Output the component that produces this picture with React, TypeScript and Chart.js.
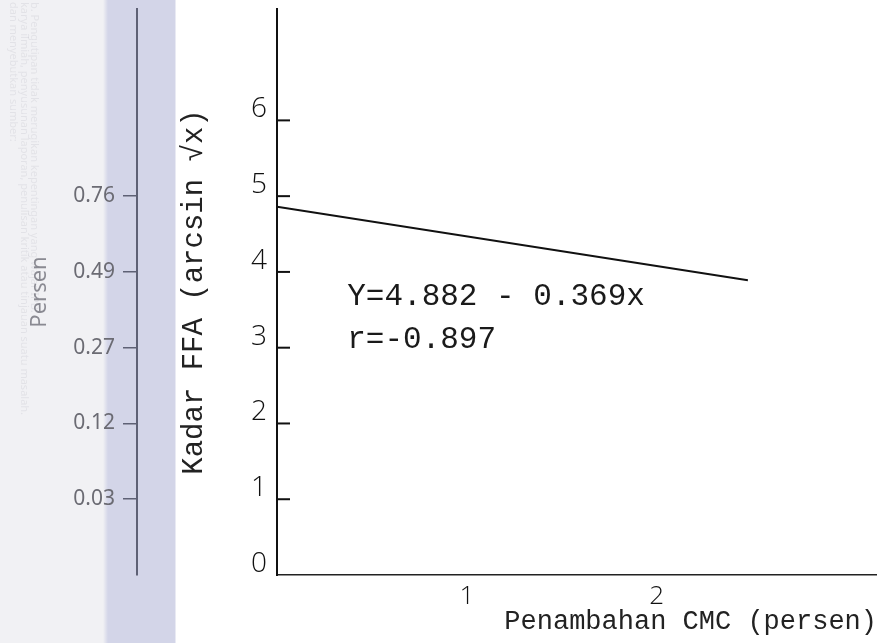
import React, { useEffect, useRef } from "react";
import { Chart, registerables } from "chart.js";

Chart.register(...registerables);

// ---- data ----
const lineX = [0, 2.48];
const lineY = [4.86, 3.89];
const yTickValues = [0, 1, 2, 3, 4, 5, 6];
const xTickValues = [1, 2];
const persenTickValues = [1, 2, 3, 4, 5];
const persenTickLabels = ["0.03", "0.12", "0.27", "0.49", "0.76"];
const equationText = "Y=4.882 - 0.369x";
const rText = "r=-0.897";
const yTitle = "Kadar FFA (arcsin √x)";
const xTitle = "Penambahan CMC (persen)";
const persenTitle = "Persen";
const watermarkLines = [
  "dan menyebutkan sumber:",
  "karya ilmiah, penyusunan laporan, penulisan kritik atau tinjauan suatu masalah.",
  "b. Pengutipan tidak merugikan kepentingan yang wajar IPB.",
];

const MONO = "'Liberation Mono', 'DejaVu Sans Mono', monospace";

function zeroPad(s: any) {
  s.paddingTop = 0;
  s.paddingBottom = 0;
  s.paddingLeft = 0;
  s.paddingRight = 0;
}

const decorPlugin = {
  id: "decor",
  beforeDraw(chart: any) {
    const ctx = chart.ctx;
    ctx.save();
    ctx.fillStyle = "rgba(120,120,140,0.12)";
    ctx.font = "11px 'Noto Sans', sans-serif";
    ctx.textBaseline = "middle";
    const cols = [13, 24, 34];
    watermarkLines.forEach((t, i) => {
      ctx.save();
      ctx.translate(cols[i], 2);
      ctx.rotate(Math.PI / 2);
      ctx.fillText(t, 0, 0);
      ctx.restore();
    });
    ctx.restore();
  },
  afterDraw(chart: any) {
    const ctx = chart.ctx;
    const xs = chart.scales.x;
    const ys = chart.scales.y;
    const left = chart.chartArea.left;
    ctx.save();
    // inward tick marks on main y axis
    ctx.strokeStyle = "#111";
    ctx.lineWidth = 2;
    yTickValues.forEach((v) => {
      if (v === 0) return;
      const y = ys.getPixelForValue(v);
      ctx.beginPath();
      ctx.moveTo(left, y);
      ctx.lineTo(left + 13, y);
      ctx.stroke();
    });
    // annotation texts
    ctx.fillStyle = "#1a1a1a";
    ctx.font = `31px ${MONO}`;
    ctx.textBaseline = "middle";
    ctx.textAlign = "left";
    ctx.fillText(equationText, xs.getPixelForValue(0.37), ys.getPixelForValue(3.67));
    ctx.fillText(rText, xs.getPixelForValue(0.37), ys.getPixelForValue(3.1));
    ctx.restore();
  },
};

export default function App() {
  const ref = useRef<HTMLCanvasElement | null>(null);

  useEffect(() => {
    if (!ref.current) return;
    const chart = new Chart(ref.current, {
      type: "line",
      data: {
        datasets: [
          {
            data: lineX.map((x, i) => ({ x, y: lineY[i] })),
            borderColor: "#111",
            borderWidth: 2,
            pointRadius: 0,
            fill: false,
            tension: 0,
          },
        ],
      },
      options: {
        animation: false,
        responsive: false,
        layout: { autoPadding: false, padding: { top: 9, right: 0, bottom: 0, left: 0 } },
        plugins: {
          legend: { display: false },
          tooltip: { enabled: false },
        },
        scales: {
          x: {
            type: "linear",
            min: 0,
            max: 3.16,
            position: "bottom",
            afterBuildTicks: (s: any) => {
              s.ticks = xTickValues.map((v) => ({ value: v }));
            },
            afterFit: (s: any) => {
              s.height = 68;
              zeroPad(s);
            },
            grid: { display: false, drawTicks: false },
            border: { display: true, color: "#222", width: 1.5, dash: [22, 3] },
            ticks: {
              padding: 6,
              color: "#111",
              font: { family: "'Open Sans', sans-serif", size: 26, weight: "300" },
              callback: (v: any) => String(v),
            },
            title: {
              display: true,
              text: xTitle,
              align: "end",
              color: "#222",
              font: { family: MONO, size: 27 },
              padding: { top: 0, bottom: 5 },
            },
          },
          y: {
            type: "linear",
            min: 0,
            max: 7.47,
            position: "left",
            weight: 0,
            afterBuildTicks: (s: any) => {
              s.ticks = yTickValues.map((v) => ({ value: v }));
            },
            afterFit: (s: any) => {
              s.width = 140;
              zeroPad(s);
            },
            grid: { display: false, drawTicks: false },
            border: { display: true, color: "#111", width: 2 },
            ticks: {
              padding: 10,
              labelOffset: -11,
              color: "#111",
              font: { family: "'Open Sans', sans-serif", size: 28, weight: "300" },
              callback: (v: any) => String(v),
            },
            title: {
              display: true,
              text: yTitle,
              color: "#222",
              font: { family: MONO, size: 29 },
              padding: { top: 40, bottom: 0 },
            },
          },
          y2: {
            type: "linear",
            min: 0,
            max: 7.47,
            position: "left",
            weight: 10,
            afterBuildTicks: (s: any) => {
              s.ticks = persenTickValues.map((v) => ({ value: v }));
            },
            afterFit: (s: any) => {
              s.width = 137;
              zeroPad(s);
            },
            grid: {
              display: true,
              drawOnChartArea: false,
              drawTicks: true,
              tickLength: 14,
              color: "#5e6175",
              lineWidth: 1.5,
            },
            border: { display: true, color: "#5e6175", width: 2 },
            ticks: {
              padding: 8,
              color: "#6b6b73",
              font: { family: "'Noto Sans', sans-serif", size: 21 },
              callback: (v: any) => {
                const i = persenTickValues.indexOf(Number(v));
                return i >= 0 ? persenTickLabels[i] : "";
              },
            },
            title: {
              display: true,
              text: persenTitle,
              color: "#8a8a92",
              font: { family: "'Noto Sans', sans-serif", size: 22 },
              padding: { top: 27, bottom: 0 },
            },
          },
        },
      },
      plugins: [decorPlugin],
    } as any);
    return () => chart.destroy();
  }, []);

  return (
    <div
      style={{
        position: "fixed",
        left: 0,
        top: 0,
        width: 877,
        height: 643,
        background:
          "linear-gradient(to right, #f1f1f4 0px, #f1f1f4 103px, #d3d5e8 108px, #d3d5e8 175px, #ffffff 176px, #ffffff 100%)",
      }}
    >
      <canvas ref={ref} width={877} height={643} style={{ display: "block" }} />
    </div>
  );
}
